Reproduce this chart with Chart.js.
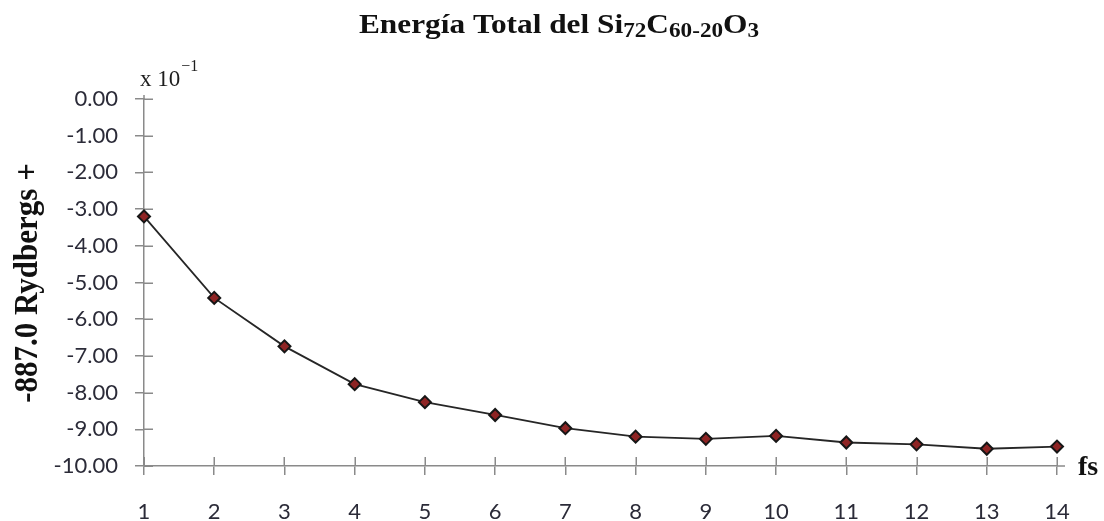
<!DOCTYPE html>
<html>
<head>
<meta charset="utf-8">
<style>
  html, body { margin: 0; padding: 0; background: #ffffff; }
  #wrap { width: 1104px; height: 521px; }
</style>
<script src="https://cdn.jsdelivr.net/npm/chart.js@4/dist/chart.umd.min.js"></script>
</head>
<body>
<div id="wrap"><canvas id="c" width="1104" height="521"></canvas></div>
<script>
// time steps (fs) and total energy offsets (x 10^-1 Rydbergs, relative to -887.0)
const steps = [1, 2, 3, 4, 5, 6, 7, 8, 9, 10, 11, 12, 13, 14];
const energy = [-3.20, -5.42, -6.74, -7.77, -8.26, -8.61, -8.97, -9.20, -9.26, -9.18, -9.36, -9.41, -9.53, -9.47];
const yTicks = [0, -1, -2, -3, -4, -5, -6, -7, -8, -9, -10];

const AXIS = '#8a8a8a';
const TEXT = '#2b2b38';
const SERIF = '"Liberation Serif", "Times New Roman", serif';
const SANS = 'Lato, "Open Sans", sans-serif';

// draws a sequence of [text, size, dy] runs, horizontally scaled, centred on cx
function drawRuns(ctx, runs, cx, baseY, sx) {
  let w = 0;
  runs.forEach(r => { ctx.font = 'bold ' + r[1] + 'px ' + SERIF; w += ctx.measureText(r[0]).width; });
  ctx.save();
  ctx.translate(cx, baseY);
  ctx.scale(sx, 1);
  let x = -w / 2;
  ctx.textBaseline = 'alphabetic';
  ctx.textAlign = 'left';
  runs.forEach(r => {
    ctx.font = 'bold ' + r[1] + 'px ' + SERIF;
    ctx.fillText(r[0], x, r[2]);
    x += ctx.measureText(r[0]).width;
  });
  ctx.restore();
}

const decorations = {
  id: 'decorations',
  beforeDatasetsDraw(chart) {
    const ctx = chart.ctx;
    const xs = chart.scales.x, ys = chart.scales.y;
    const left = xs.left, right = xs.right, top = ys.top, bottom = ys.bottom;

    // inner halves of the crossing tick marks, plus short axis overhangs
    ctx.save();
    ctx.strokeStyle = AXIS;
    ctx.lineWidth = 1.5;
    ctx.beginPath();
    ys.ticks.forEach(t => {
      const py = Math.round(ys.getPixelForValue(t.value)) + 0.25;
      ctx.moveTo(left, py); ctx.lineTo(left + 9, py);
    });
    xs.ticks.forEach(t => {
      const px = Math.round(xs.getPixelForValue(t.value)) + 0.25;
      ctx.moveTo(px, bottom); ctx.lineTo(px, bottom - 9);
    });
    ctx.moveTo(right, bottom); ctx.lineTo(right + 8, bottom);
    ctx.moveTo(left, top); ctx.lineTo(left, top - 4);
    ctx.stroke();
    ctx.restore();
  },
  afterDraw(chart) {
    const ctx = chart.ctx;
    ctx.save();
    ctx.fillStyle = '#111111';

    // title with chemical subscripts
    drawRuns(ctx, [
      ['Energía Total del Si', 27, 0],
      ['72', 20, 4],
      ['C', 27, 0],
      ['60-20', 20, 4],
      ['O', 27, 0],
      ['3', 20, 4]
    ], 559, 33, 1.16);

    // vertical axis title
    ctx.save();
    ctx.translate(37, 283);
    ctx.rotate(-Math.PI / 2);
    ctx.scale(1, 1.08);
    ctx.font = 'bold 31px ' + SERIF;
    ctx.textAlign = 'center';
    ctx.textBaseline = 'alphabetic';
    ctx.fillText('-887.0 Rydbergs +', 0, 0);
    ctx.restore();

    // scale multiplier above the vertical axis
    ctx.fillStyle = '#1e1e1e';
    ctx.textAlign = 'left';
    ctx.textBaseline = 'alphabetic';
    ctx.font = '23px ' + SERIF;
    ctx.fillText('x 10', 140, 86);
    const w10 = ctx.measureText('x 10').width;
    ctx.font = '16px ' + SERIF;
    ctx.fillText('\u22121', 140 + w10 + 1, 71);

    // horizontal axis unit
    ctx.fillStyle = '#111111';
    ctx.font = 'bold 28px ' + SERIF;
    ctx.fillText('fs', 1078, 475);
    ctx.restore();
  }
};

new Chart(document.getElementById('c'), {
  type: 'line',
  data: {
    datasets: [{
      data: steps.map((s, i) => ({ x: s, y: energy[i] })),
      borderColor: '#262626',
      borderWidth: 1.8,
      pointStyle: 'rectRot',
      pointRadius: 6,
      pointBackgroundColor: '#8e2424',
      pointBorderColor: '#161616',
      pointBorderWidth: 2,
      tension: 0,
      fill: false,
      clip: false
    }]
  },
  options: {
    responsive: false,
    devicePixelRatio: 1,
    animation: false,
    layout: { padding: { top: 99, right: 47, left: 0, bottom: 0 } },
    plugins: { legend: { display: false }, tooltip: { enabled: false }, title: { display: false } },
    scales: {
      x: {
        type: 'linear',
        min: steps[0],
        max: steps[steps.length - 1],
        afterBuildTicks(scale) { scale.ticks = steps.map(v => ({ value: v })); },
        afterFit(scale) { scale.height = 55; },
        ticks: {
          stepSize: 1,
          padding: 24,
          color: TEXT,
          font: { family: SANS, size: 22 },
          maxRotation: 0,
          autoSkip: false
        },
        grid: { drawOnChartArea: false, drawTicks: true, tickLength: 9, color: AXIS, lineWidth: 1.5 },
        border: { display: true, color: AXIS, width: 1.5 }
      },
      y: {
        min: -10,
        max: 0,
        afterBuildTicks(scale) { scale.ticks = yTicks.map(v => ({ value: v })); },
        afterFit(scale) { scale.width = 144; },
        ticks: {
          padding: 17,
          color: TEXT,
          font: { family: SANS, size: 22 },
          callback: v => Number(v).toFixed(2)
        },
        grid: { drawOnChartArea: false, drawTicks: true, tickLength: 9, color: AXIS, lineWidth: 1.5 },
        border: { display: true, color: AXIS, width: 1.5 }
      }
    }
  },
  plugins: [decorations]
});
</script>
</body>
</html>
